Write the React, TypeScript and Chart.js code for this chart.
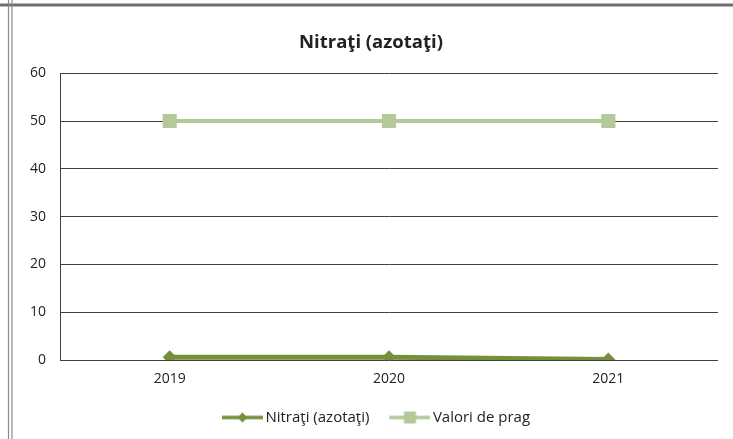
import React, { useEffect, useRef } from "react";
import { Chart, registerables } from "chart.js";

Chart.register(...registerables);

const categories = ["2019", "2020", "2021"];
const nitratiValues = [0.6, 0.6, 0.1];
const pragValues = [50, 50, 50];
const yMin = 0;
const yMax = 60;
const yStep = 10;
const titleText = "Nitraţi (azotaţi)";
const seriesNames = ["Nitraţi (azotaţi)", "Valori de prag"];

const DARK_GREEN = "#74903A";
const LIGHT_GREEN = "#B3C99A";
const FONT = "'Open Sans', 'Noto Sans', sans-serif";

function makeLegendIcon(color: string, marker: "diamond" | "square"): HTMLCanvasElement {
  const c = document.createElement("canvas");
  c.width = 56;
  c.height = 16;
  const ctx = c.getContext("2d")!;
  const x0 = 15;
  const x1 = 56;
  const mid = (x0 + x1) / 2;
  ctx.strokeStyle = color;
  ctx.lineWidth = 3.5;
  ctx.beginPath();
  ctx.moveTo(x0, 8);
  ctx.lineTo(x1, 8);
  ctx.stroke();
  ctx.fillStyle = color;
  if (marker === "diamond") {
    ctx.beginPath();
    ctx.moveTo(mid, 3);
    ctx.lineTo(mid + 5, 8);
    ctx.lineTo(mid, 13);
    ctx.lineTo(mid - 5, 8);
    ctx.closePath();
    ctx.fill();
  } else {
    ctx.fillRect(mid - 6, 2, 12, 12);
  }
  return c;
}

const framePlugin = {
  id: "frame",
  beforeDraw(chart: any) {
    const { ctx, width, height } = chart;
    ctx.save();
    ctx.fillStyle = "#ffffff";
    ctx.fillRect(0, 0, width, height);
    ctx.strokeStyle = "#6e6e6e";
    ctx.lineWidth = 3;
    ctx.beginPath();
    ctx.moveTo(0, 5);
    ctx.lineTo(width, 5);
    ctx.stroke();
    ctx.lineWidth = 1.2;
    ctx.strokeStyle = "#8a8a8a";
    ctx.beginPath();
    ctx.moveTo(8.5, 0);
    ctx.lineTo(8.5, height);
    ctx.moveTo(12, 0);
    ctx.lineTo(12, height);
    ctx.stroke();
    ctx.restore();
  },
};

export default function App() {
  const ref = useRef<HTMLCanvasElement | null>(null);

  useEffect(() => {
    document.body.style.margin = "0";
    const canvas = ref.current;
    if (!canvas) return;
    const icons = [makeLegendIcon(DARK_GREEN, "diamond"), makeLegendIcon(LIGHT_GREEN, "square")];

    const chart = new Chart(canvas, {
      type: "line",
      data: {
        labels: categories,
        datasets: [
          {
            label: seriesNames[0],
            data: nitratiValues,
            borderColor: DARK_GREEN,
            backgroundColor: DARK_GREEN,
            borderWidth: 5,
            pointStyle: "rectRot",
            pointRadius: 7,
            pointBorderWidth: 0,
            tension: 0,
          },
          {
            label: seriesNames[1],
            data: pragValues,
            borderColor: LIGHT_GREEN,
            backgroundColor: LIGHT_GREEN,
            borderWidth: 4,
            pointStyle: "rect",
            pointRadius: 10,
            pointBorderWidth: 0,
            tension: 0,
          },
        ],
      },
      options: {
        responsive: false,
        animation: false,
        layout: { padding: { left: 24, right: 15, top: 0, bottom: 4 } },
        plugins: {
          title: {
            display: true,
            text: titleText,
            color: "#222222",
            font: { family: FONT, size: 18.5, weight: "bold" },
            padding: { top: 32, bottom: 19 },
          },
          legend: {
            position: "bottom",
            labels: {
              usePointStyle: true,
              pointStyleWidth: 46,
              color: "#222222",
              font: { family: FONT, size: 15 },
              padding: 10,
              generateLabels: (ch: any) =>
                ch.data.datasets.map((ds: any, i: number) => ({
                  text: ds.label,
                  pointStyle: icons[i],
                  fillStyle: ds.borderColor,
                  strokeStyle: ds.borderColor,
                  lineWidth: 0,
                  hidden: false,
                  datasetIndex: i,
                  fontColor: "#222222",
                })),
            },
          },
          tooltip: { enabled: false },
        },
        scales: {
          x: {
            type: "category",
            offset: true,
            grid: { display: false, drawTicks: false },
            border: { display: false },
            ticks: { color: "#222222", font: { family: FONT, size: 14 }, padding: 11 },
            afterFit: (s: any) => {
              s.height = 40;
            },
          },
          y: {
            min: yMin,
            max: yMax,
            ticks: { stepSize: yStep, color: "#222222", font: { family: FONT, size: 14 }, padding: 14 },
            grid: { color: "#3f3f3f", lineWidth: 1, drawTicks: false },
            border: { display: true, color: "#3f3f3f", width: 1 },
            afterFit: (s: any) => {
              s.width = 36;
            },
          },
        },
      },
      plugins: [framePlugin],
    } as any);
    return () => chart.destroy();
  }, []);

  return <canvas ref={ref} width={733} height={439} style={{ display: "block" }} />;
}
